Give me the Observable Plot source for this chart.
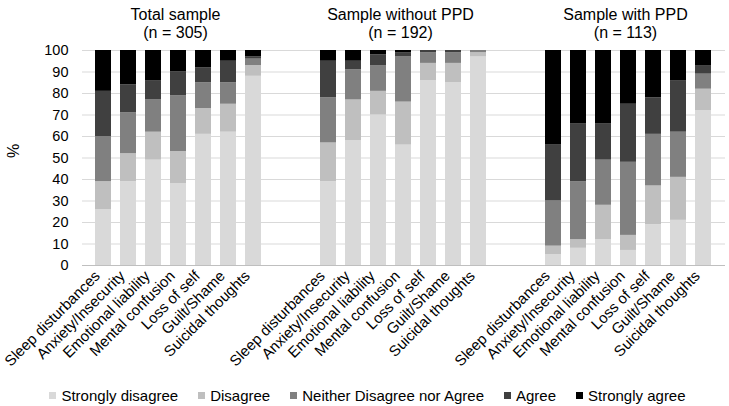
<!DOCTYPE html>
<html>
<head>
<meta charset="utf-8">
<script src="https://cdn.jsdelivr.net/npm/d3@7"></script>
<script src="https://cdn.jsdelivr.net/npm/@observablehq/plot@0.6"></script>
<style>
  body { margin: 0; background: #fff; font-family: "Liberation Sans", Arial, sans-serif; }
  #wrap { position: relative; width: 729px; height: 406px; }
  #legend { position: absolute; left: 0; top: 385px; width: 729px; height: 20px;
            display: flex; justify-content: center; align-items: center; font-size: 15px; color: #000; padding-left: 6px; box-sizing: border-box; }
  .item { display: flex; align-items: center; margin: 0 10px; white-space: nowrap; }
  .sw { width: 7px; height: 7px; margin-right: 5px; }
</style>
</head>
<body>
<div id="wrap"><div id="chart"></div><div id="legend"></div></div>
<script>
const categories = ["Sleep disturbances", "Anxiety/Insecurity", "Emotional liability", "Mental confusion", "Loss of self", "Guilt/Shame", "Suicidal thoughts"];
const groups = ["Total sample", "Sample without PPD", "Sample with PPD"];
const groupN = ["(n = 305)", "(n = 192)", "(n = 113)"];
const responses = ["Strongly disagree", "Disagree", "Neither Disagree nor Agree", "Agree", "Strongly agree"];
const colors = ["#d9d9d9", "#bfbfbf", "#808080", "#404040", "#000000"];
const yTicks = [0, 10, 20, 30, 40, 50, 60, 70, 80, 90, 100];

// values per category, in response order (Strongly disagree ... Strongly agree)
const totalSample = [
  [26, 13, 21, 21, 19],
  [39, 13, 19, 13, 16],
  [49, 13, 15, 9, 14],
  [38, 15, 26, 11, 10],
  [61, 12, 12, 7, 8],
  [62, 13, 10, 10, 5],
  [88, 5, 3, 1, 3]
];
const withoutPPD = [
  [39, 18, 21, 17, 5],
  [58, 19, 14, 4, 5],
  [70, 11, 12, 5, 2],
  [56, 20, 21, 2, 1],
  [86, 8, 5, 1, 0],
  [85, 9, 5, 1, 0],
  [97, 2, 1, 0, 0]
];
const withPPD = [
  [5, 4, 21, 26, 44],
  [8, 4, 27, 27, 34],
  [12, 16, 21, 17, 34],
  [7, 7, 34, 27, 25],
  [19, 18, 24, 17, 22],
  [21, 20, 21, 24, 14],
  [72, 10, 7, 4, 7]
];
const groupValues = [totalSample, withoutPPD, withPPD];

// build band domain with two empty slots between groups
const domain = [];
groups.forEach((g, gi) => {
  categories.forEach(c => domain.push(g + "|" + c));
  if (gi < groups.length - 1) { domain.push("gap" + gi + "a"); domain.push("gap" + gi + "b"); }
});

const data = [];
groups.forEach((g, gi) => {
  categories.forEach((c, ci) => {
    responses.forEach((r, ri) => {
      data.push({key: g + "|" + c, response: r, value: groupValues[gi][ci][ri]});
    });
  });
});

const titles = groups.map((g, gi) => ({key: g + "|" + categories[3], title: g, n: groupN[gi]}));

const chart = Plot.plot({
  width: 729,
  height: 406,
  marginLeft: 82,
  marginRight: 4,
  marginTop: 50,
  marginBottom: 141,
  style: {fontFamily: "'Liberation Sans', Arial, sans-serif", color: "#000", background: "#fff", overflow: "visible"},
  x: {type: "band", domain, paddingInner: 0.34, paddingOuter: 0.17, axis: null},
  y: {domain: [0, 100], axis: null},
  color: {domain: responses, range: colors},
  marks: [
    Plot.ruleY(yTicks.filter(d => d > 0), {stroke: "#d9d9d9", strokeWidth: 1}),
    Plot.barY(data, {x: "key", y: "value", fill: "response"}),
    Plot.ruleY([0], {stroke: "#bfbfbf", strokeWidth: 1}),
    Plot.axisY({ticks: yTicks, tickSize: 0, tickPadding: 14, fontSize: 14.5, label: null}),
    Plot.axisX({tickSize: 0, tickRotate: -45, tickPadding: 8, dx: -6, fontSize: 15, label: null,
      tickFormat: d => d.includes("|") ? d.split("|")[1] : ""}),
    Plot.text(["%"], {frameAnchor: "left", dx: -69, rotate: -90, fontSize: 16, fill: "#000"}),
    Plot.text(titles, {x: "key", text: "title", frameAnchor: "top", dy: -42, dx: -3, fontSize: 16, fill: "#000"}),
    Plot.text(titles, {x: "key", text: "n", frameAnchor: "top", dy: -24, dx: -3, fontSize: 16, fill: "#000"})
  ]
});
document.getElementById("chart").appendChild(chart);

const legend = document.getElementById("legend");
responses.forEach((r, i) => {
  const item = document.createElement("div");
  item.className = "item";
  const sw = document.createElement("span");
  sw.className = "sw";
  sw.style.background = colors[i];
  const label = document.createElement("span");
  label.textContent = r;
  item.appendChild(sw);
  item.appendChild(label);
  legend.appendChild(item);
});
</script>
</body>
</html>
